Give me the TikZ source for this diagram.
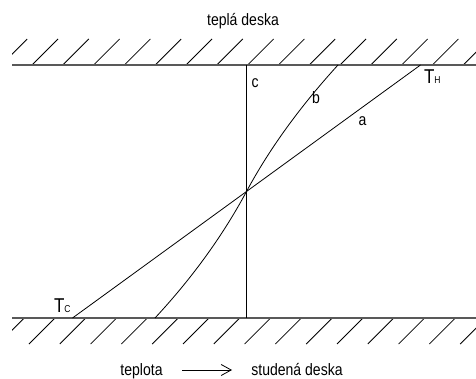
\documentclass[tikz,border=0pt]{standalone}
\usepackage{fontspec}
\setmainfont{Liberation Sans}[FakeStretch=0.85]
\usetikzlibrary{arrows.meta}
\tikzset{
  plate/.style={draw=black!65, line width=1.6pt},
  hatch/.style={draw=black, line width=0.8pt},
  curve/.style={draw=black, line width=0.8pt},
  lbl/.style={inner sep=0pt, outer sep=0pt, font=\fontsize{16.5}{16.5}\selectfont},
  tlbl/.style={inner sep=0pt, outer sep=0pt, font=\fontsize{20}{20}\selectfont},
}
\newcommand{\subH}[1]{{\fontsize{10}{10}\selectfont #1}}
\begin{document}
\begin{tikzpicture}[x=1pt,y=-1pt]
\useasboundingbox (0,0) rectangle (476,379);
% plates
\coordinate (tl) at (12,65);
\coordinate (tr) at (476,65);
\coordinate (bl) at (12,318);
\coordinate (br) at (476,318);
\begin{scope}
\clip (12,0) rectangle (476,379);
\foreach \k in {-1,...,14}{
  \draw[hatch] ({32+30.8*\k},65) -- ++(26,-26);
}
\foreach \k in {-1,...,14}{
  \draw[hatch] ({55+30.8*\k},318) -- ++(-26,26);
}
\end{scope}
\draw[plate] (tl) -- (tr);
\draw[plate] (bl) -- (br);
% profiles
\coordinate (ctop) at (246.5,65);
\coordinate (cbot) at (246.5,318);
\coordinate (mid) at (246.5,191.5);
\coordinate (atop) at (420.5,65);
\coordinate (abot) at (72.5,318);
\coordinate (btop) at (338,65);
\coordinate (bbot) at (155,318);
\draw[curve] (ctop) -- (cbot);
\draw[curve] (abot) -- (atop);
\draw[curve] (bbot) .. controls (193.9,276.1) and (223.9,233.6) .. (mid)
  .. controls (269.1,149.4) and (299.5,107.2) .. (btop);
% labels
\node[lbl, anchor=base] (top) at (243,26) {teplá deska};
\node[lbl, anchor=base west] (lc) at (251.5,88) {c};
\node[lbl, anchor=base west] (lb) at (312,104) {b};
\node[lbl, anchor=base west] (la) at (358.5,126) {a};
\node[tlbl, anchor=base west] (th) at (424,84) {T\subH{H}};
\node[tlbl, anchor=base west] (tc) at (54,312) {T\subH{C}};
\node[lbl, anchor=base] (tep) at (141.5,375) {teplota};
\node[lbl, anchor=base] (stu) at (297,375) {studená deska};
\coordinate (ar1) at (182,370);
\coordinate (ar2) at (232,370);
\draw[line width=0.8pt, -{Straight Barb[length=10pt,width=11pt]}] (ar1) -- (ar2);
\end{tikzpicture}
\end{document}
